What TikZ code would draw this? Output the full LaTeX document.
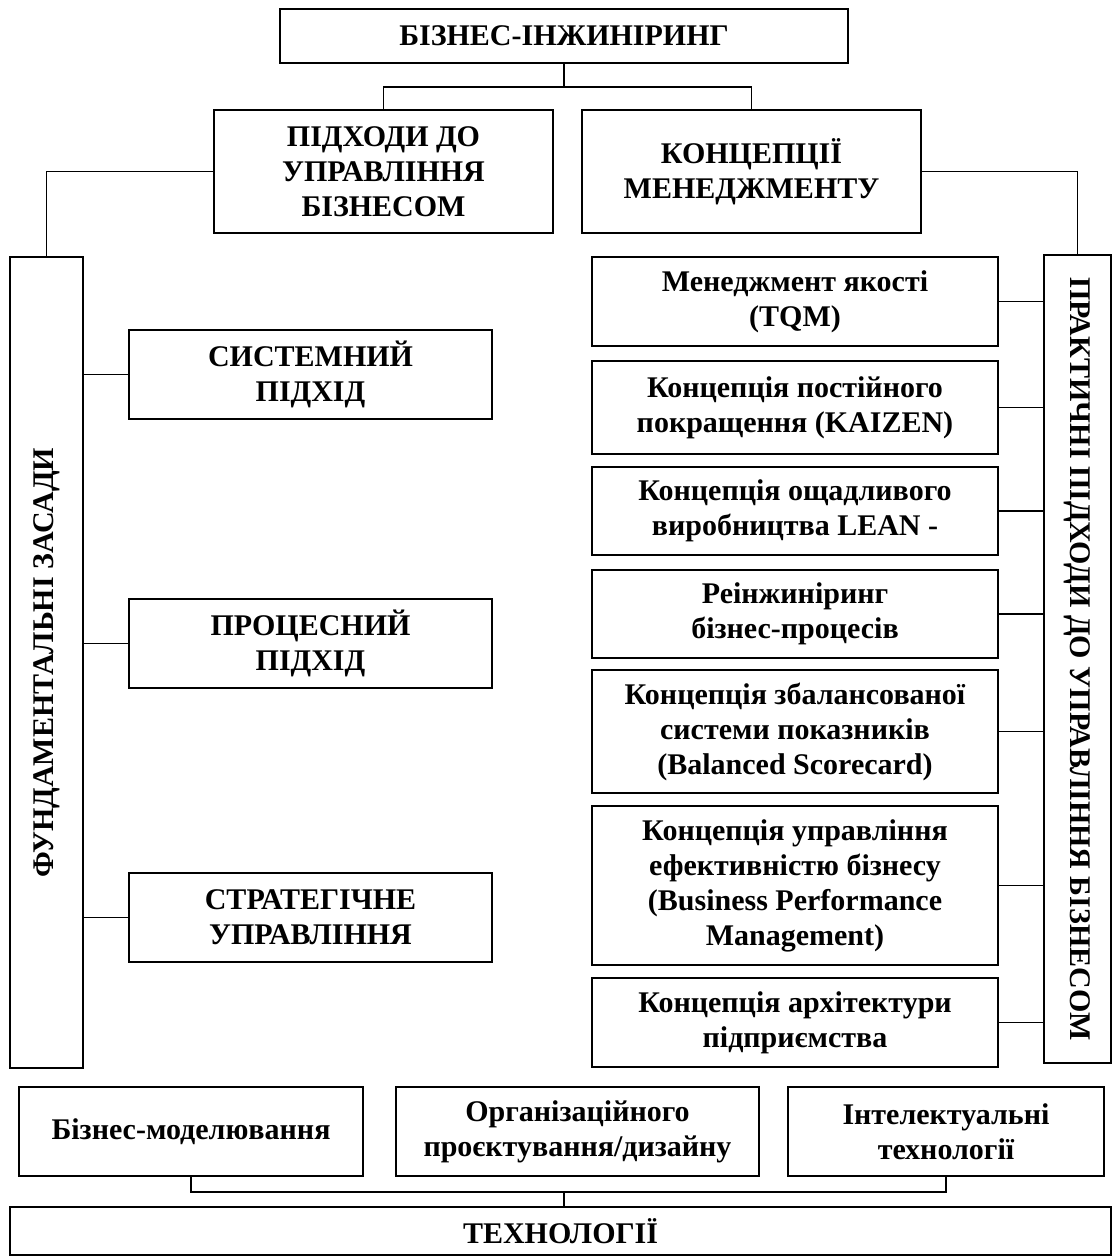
\documentclass[tikz,border=0pt]{standalone}
\usepackage{fontspec}
\setmainfont{Liberation Serif}
\usepackage{tikz}
\usetikzlibrary{positioning,calc}

\begin{document}
\begin{tikzpicture}[
    x=1pt,y=-1pt,
    bx/.style  = {rectangle,draw,line width=1.6pt,align=center,inner sep=0pt,
                  font=\fontsize{30}{35}\selectfont\bfseries},
    ln/.style  = {line width=1.6pt},
  ]
  \useasboundingbox (0,0) rectangle (1113,1257);

  % top level
  \node[bx,minimum width=568pt,minimum height=54pt] (top) at (564,36) {БІЗНЕС-ІНЖИНІРИНГ};
  \node[bx,minimum width=339pt,minimum height=123pt] (appr) at (383.5,171.5)
       {ПІДХОДИ ДО\\УПРАВЛІННЯ\\БІЗНЕСОМ};
  \node[bx,minimum width=339pt,minimum height=123pt] (conc) at (751.5,171.5)
       {КОНЦЕПЦІЇ\\МЕНЕДЖМЕНТУ};

  % side columns
  \node[bx,rotate=90,minimum width=811pt,minimum height=73pt] (fund) at (46.5,662.5)
       {ФУНДАМЕНТАЛЬНІ ЗАСАДИ};
  \node[bx,rotate=-90,minimum width=808pt,minimum height=67pt] (prac) at (1077.5,659)
       {ПРАКТИЧНІ ПІДХОДИ ДО УПРАВЛІННЯ БІЗНЕСОМ};

  % approaches
  \node[bx,minimum width=363pt,minimum height=89pt] (sys)   at (310.5,374.5) {СИСТЕМНИЙ\\ПІДХІД};
  \node[bx,minimum width=363pt,minimum height=89pt] (proc)  at (310.5,643.5) {ПРОЦЕСНИЙ\\ПІДХІД};
  \node[bx,minimum width=363pt,minimum height=89pt] (strat) at (310.5,917.5) {СТРАТЕГІЧНЕ\\УПРАВЛІННЯ};

  % concepts
  \node[bx,minimum width=406pt,minimum height=89pt]  (tqm)    at (795,301.5)
       {Менеджмент якості\\(TQM)};
  \node[bx,minimum width=406pt,minimum height=93pt]  (kaizen) at (795,407.5)
       {Концепція постійного\\покращення (KAIZEN)};
  \node[bx,minimum width=406pt,minimum height=88pt]  (lean)   at (795,511)
       {Концепція ощадливого\\виробництва LEAN -};
  \node[bx,minimum width=406pt,minimum height=88pt]  (reeng)  at (795,614)
       {Реінжиніринг\\бізнес-процесів};
  \node[bx,minimum width=406pt,minimum height=123pt] (bsc)    at (795,731.5)
       {Концепція збалансованої\\системи показників\\(Balanced Scorecard)};
  \node[bx,minimum width=406pt,minimum height=159pt] (bpm)    at (795,885.5)
       {Концепція управління\\ефективністю бізнесу\\(Business Performance\\Management)};
  \node[bx,minimum width=406pt,minimum height=89pt]  (arch)   at (795,1022.5)
       {Концепція архітектури\\підприємства};

  % technologies
  \node[bx,minimum width=344pt,minimum height=89pt] (mod) at (191,1131.5) {Бізнес-моделювання};
  \node[bx,minimum width=363pt,minimum height=89pt] (org) at (577.5,1131.5)
       {Організаційного\\проєктування/дизайну};
  \node[bx,minimum width=316pt,minimum height=89pt] (int) at (946,1131.5)
       {Інтелектуальні\\технології};
  \node[bx,minimum width=1101pt,minimum height=48pt] (tech) at (560.5,1231) {ТЕХНОЛОГІЇ};

  \coordinate (tj) at (564,87);
  \coordinate (bj) at (564,1192);

  \draw[ln] (top.south) -- (tj);
  \draw[ln] (appr.north) |- (tj) -| (conc.north);
  \draw[ln] (appr.west) -| (fund.east);
  \draw[ln] (conc.east) -| (prac.west);

  \foreach \n in {sys,proc,strat} \draw[ln] (\n.west) -- (\n.west -| fund.south);
  \foreach \n in {tqm,kaizen,lean,reeng,bsc,bpm,arch} \draw[ln] (\n.east) -- (\n.east -| prac.south);

  \draw[ln] (mod.south) |- (bj) -| (int.south);
  \draw[ln] (bj) -- (bj |- tech.north);

\end{tikzpicture}
\end{document}
